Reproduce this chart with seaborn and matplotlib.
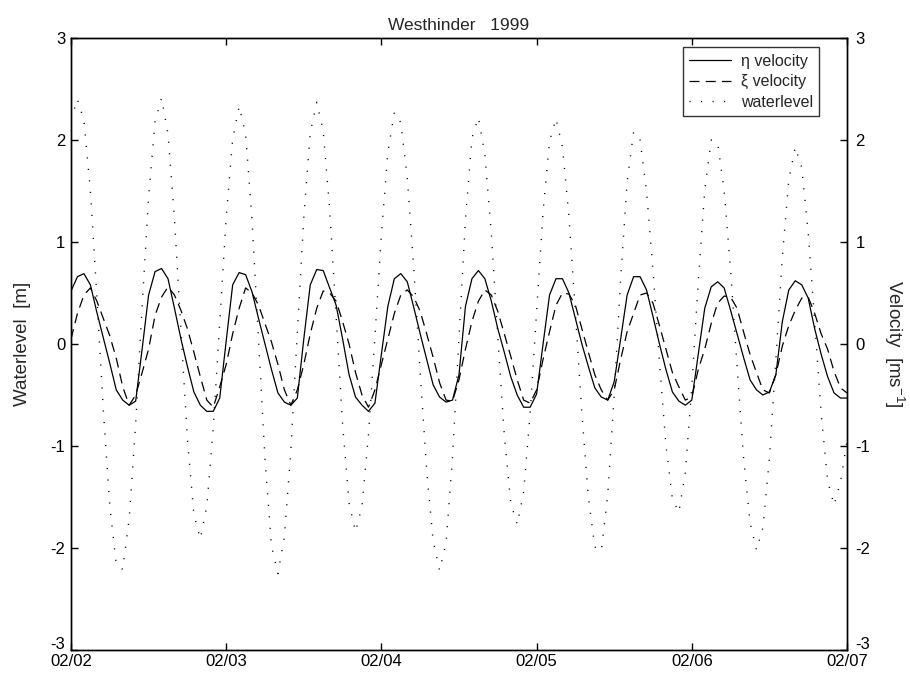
import numpy as np
import pandas as pd
import matplotlib
matplotlib.use("Agg")
import matplotlib.pyplot as plt
import matplotlib.transforms as mtransforms
import seaborn as sns

# ---- data (hourly) ----
hours = np.arange(0, 121)
day_labels = ["02/02", "02/03", "02/04", "02/05", "02/06", "02/07"]

eta_velocity = [0.52, 0.66, 0.69, 0.58, 0.31, 0.06, -0.19, -0.45, -0.55, -0.60,
                -0.56, -0.05, 0.48, 0.71, 0.74, 0.64, 0.35, 0.05, -0.22, -0.47,
                -0.60, -0.66, -0.66, -0.53, 0.03, 0.58, 0.70, 0.68, 0.51, 0.25,
                0.00, -0.25, -0.48, -0.57, -0.60, -0.53, 0.05, 0.58, 0.73, 0.72,
                0.55, 0.38, 0.05, -0.30, -0.52, -0.60, -0.66, -0.58, -0.10, 0.37,
                0.64, 0.69, 0.61, 0.36, 0.10, -0.15, -0.40, -0.52, -0.57, -0.55,
                -0.30, 0.37, 0.64, 0.72, 0.64, 0.42, 0.15, -0.08, -0.32, -0.50,
                -0.62, -0.62, -0.49, 0.00, 0.48, 0.64, 0.64, 0.50, 0.25, 0.00,
                -0.22, -0.43, -0.52, -0.55, -0.37, 0.05, 0.48, 0.66, 0.66, 0.53,
                0.27, 0.00, -0.25, -0.47, -0.56, -0.60, -0.55, -0.10, 0.35, 0.56,
                0.61, 0.55, 0.33, 0.10, -0.13, -0.35, -0.45, -0.50, -0.47, -0.30,
                0.22, 0.53, 0.62, 0.58, 0.45, 0.15, -0.10, -0.32, -0.48, -0.53,
                -0.53]

xi_velocity = [0.05, 0.30, 0.48, 0.55, 0.42, 0.25, 0.08, -0.14, -0.42, -0.60,
               -0.50, -0.28, -0.05, 0.28, 0.46, 0.56, 0.48, 0.33, 0.15, -0.08,
               -0.32, -0.55, -0.62, -0.42, -0.20, 0.10, 0.35, 0.55, 0.50, 0.38,
               0.20, 0.02, -0.20, -0.45, -0.60, -0.45, -0.20, 0.10, 0.35, 0.52,
               0.50, 0.42, 0.22, 0.00, -0.28, -0.50, -0.62, -0.45, -0.20, 0.05,
               0.30, 0.48, 0.53, 0.46, 0.32, 0.10, -0.13, -0.38, -0.55, -0.56,
               -0.35, -0.05, 0.22, 0.42, 0.53, 0.48, 0.32, 0.10, -0.12, -0.35,
               -0.55, -0.58, -0.45, -0.15, 0.12, 0.38, 0.50, 0.49, 0.38, 0.15,
               -0.08, -0.30, -0.45, -0.55, -0.45, -0.15, 0.12, 0.30, 0.48, 0.50,
               0.40, 0.18, -0.05, -0.28, -0.42, -0.55, -0.52, -0.25, -0.05, 0.20,
               0.40, 0.47, 0.46, 0.35, 0.12, -0.10, -0.28, -0.45, -0.48, -0.30,
               -0.02, 0.18, 0.33, 0.45, 0.46, 0.30, 0.10, -0.05, -0.27, -0.43,
               -0.48]

waterlevel = [2.20, 2.40, 2.19, 1.50, 0.47, -0.65, -1.59, -2.16, -2.21, -1.71,
              -0.78, 0.37, 1.44, 2.18, 2.41, 2.06, 1.23, 0.14, -0.93, -1.67,
              -1.91, -1.59, -0.82, 0.21, 1.24, 2.01, 2.33, 2.06, 1.21, 0.04,
              -1.13, -1.98, -2.25, -1.89, -1.04, 0.12, 1.24, 2.07, 2.37, 2.09,
              1.32, 0.27, -0.79, -1.56, -1.84, -1.59, -0.89, 0.07, 1.07, 1.88,
              2.27, 2.17, 1.63, 0.75, -0.28, -1.24, -1.93, -2.22, -1.95, -1.11,
              0.07, 1.22, 2.02, 2.22, 1.86, 1.08, 0.07, -0.89, -1.56, -1.77,
              -1.45, -0.68, 0.32, 1.30, 1.99, 2.21, 1.93, 1.25, 0.31, -0.68,
              -1.50, -1.99, -2.03, -1.48, -0.50, 0.64, 1.59, 2.08, 2.00, 1.50,
              0.72, -0.18, -0.99, -1.52, -1.65, -1.26, -0.42, 0.61, 1.51, 2.00,
              1.97, 1.51, 0.72, -0.22, -1.11, -1.75, -2.02, -1.80, -1.12, -0.15,
              0.85, 1.61, 1.93, 1.73, 1.09, 0.22, -0.68, -1.34, -1.58, -1.35,
              -0.95]

y_ticks = [-3, -2, -1, 0, 1, 2, 3]

df = pd.DataFrame({
    "day": hours / 24.0,
    "eta": eta_velocity,
    "xi": xi_velocity,
    "wl": waterlevel,
})

# ---- style ----
sns.set_theme(style="ticks")
plt.rcParams["font.family"] = ["Liberation Sans", "DejaVu Sans"]
plt.rcParams["mathtext.default"] = "regular"
plt.rcParams["axes.edgecolor"] = "black"
plt.rcParams["axes.linewidth"] = 1.0

fig = plt.figure(figsize=(9.1, 6.75), dpi=100)
ax = fig.add_axes([71 / 910, 25 / 675, 776 / 910, 612 / 675])

sns.lineplot(data=df, x="day", y="eta", ax=ax, color="black", lw=0.9,
             label="η velocity")
sns.lineplot(data=df, x="day", y="xi", ax=ax, color="black", lw=0.9,
             linestyle=(0, (8, 5)), label="ξ velocity")
sns.lineplot(data=df, x="day", y="wl", ax=ax, color="black", lw=1.0,
             linestyle=(0, (0.8, 7.5)), label="waterlevel")

ax.set_xlim(0, 5)
ax.set_ylim(-3, 3)
ax.set_xticks(range(len(day_labels)))
ax.set_xticklabels(day_labels, fontsize=12)
ax.set_yticks(y_ticks)
ax.set_yticklabels([str(v) for v in y_ticks], fontsize=12)
ax.tick_params(direction="in", length=5, width=1, top=True, right=False,
               colors="black", pad=4)
ax.tick_params(axis="x", pad=3)
ax.set_xlabel("")
ax.set_ylabel("Waterlevel  [m]", fontsize=13.5, labelpad=14)
ax.set_title("Westhinder   1999", fontsize=12.5, pad=6)

ax2 = ax.twinx()
ax2.set_ylim(-3, 3)
ax2.set_yticks(y_ticks)
ax2.set_yticklabels([str(v) for v in y_ticks], fontsize=12)
ax2.tick_params(direction="in", length=5, width=1, colors="black", pad=6)
ax2.set_ylabel("Velocity  [ms$^{-1}$]", fontsize=13.5, rotation=270, labelpad=26)

# lift the bottom "-3" labels slightly so they clear the date labels
lift = mtransforms.ScaledTranslation(0, 7 / 100, fig.dpi_scale_trans)
for lab in ax.get_yticklabels() + ax2.get_yticklabels():
    if lab.get_text() == "-3":
        lab.set_transform(lab.get_transform() + lift)

for a in (ax, ax2):
    for s in a.spines.values():
        s.set_visible(True)
        s.set_color("black")
        s.set_linewidth(1.0)

leg = ax.legend(loc="upper right", bbox_to_anchor=(0.964, 0.985),
                borderaxespad=0, fontsize=11.5, fancybox=False,
                frameon=True, edgecolor="black", handlelength=2.6,
                handletextpad=0.6, labelspacing=0.35, borderpad=0.4)
leg.get_frame().set_linewidth(1.0)

fig.savefig("out.png", dpi=100, facecolor="white")
